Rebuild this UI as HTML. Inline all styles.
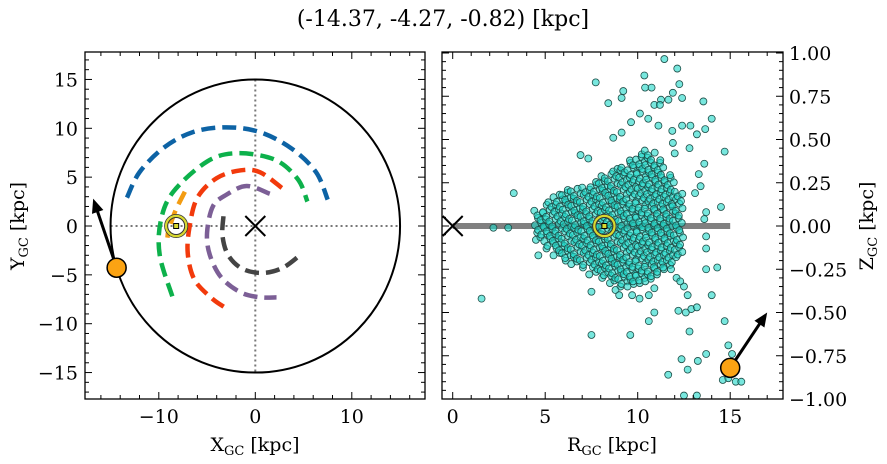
<!DOCTYPE html>
<html><head><meta charset="utf-8"><style>
html,body{margin:0;padding:0;background:#fff;}
svg{display:block;font-family:"DejaVu Serif","Liberation Serif",serif;}
</style></head><body>
<svg id="c" width="887" height="464" viewBox="0 0 887 464" xmlns="http://www.w3.org/2000/svg">
<text x="443" y="26" font-size="22" text-anchor="middle">(-14.37, -4.27, -0.82) [kpc]</text>
<g id="L"></g><g id="R"></g>
</svg>
<script>
// ---- left panel data (kpc) ----
const blueX=[-13.3,-12,-9.5,-6.5,-3,0.5,3.8,6.3,7.5];
const blueY=[2.9,5.5,8,9.6,10.1,9.6,7.9,5.5,2.7];
const greenX=[-8.6,-9.9,-9.8,-8.5,-5,-1.9,2,4.4,5.4];
const greenY=[-7.2,-3,0.5,3.5,6.6,7.45,6.8,4.8,2.5];
const redX=[2.75,0.5,-1.5,-4,-6,-6.8,-7,-6.3,-4.5,-3.2];
const redY=[3.9,5.5,5.7,4.9,2.9,0,-2.8,-5.5,-7.4,-8.3];
const purpleX=[1.5,-0.9,-3,-4.4,-5,-4.7,-3.5,-1.5,0.5,2.2];
const purpleY=[3.3,4.1,3.2,2,-0.7,-3,-5.3,-6.8,-7.3,-7.3];
const grayX=[-3.3,-3.4,-2.8,-1.3,0.8,2.8,4.5];
const grayY=[1,-1,-3,-4.4,-4.8,-4.3,-3.1];
const orangeX=[-7.3,-8.3,-9,-9.1];
const orangeY=[3.5,1.5,-0.5,-1.2];
const sunPos=[-8.2,0];
const objXY=[-14.37,-4.27];
const objArrow=[-16.8,2.8];
const circleR=15;
const xTicksL=[-10,0,10], yTicksL=[-15,-10,-5,0,5,10,15];
// ---- right panel data ----
const coreR=[4.5,5,5.5,6,6.5,7,7.5,8,8.5,9,9.5,10,10.5,11,11.5,12];
const coreZmax=[0.1,0.15,0.19,0.21,0.22,0.23,0.26,0.3,0.33,0.34,0.38,0.42,0.44,0.38,0.3,0.2];
const coreZmin=[-0.08,-0.13,-0.17,-0.2,-0.22,-0.24,-0.28,-0.3,-0.33,-0.35,-0.35,-0.33,-0.32,-0.28,-0.24,-0.18];
const outR=[11.44,12.14,10.36,7.73,12.25,9.22,9.13,10.4,10.75,11.9,12.4,11.26,11.66,8.41,13.55,10.9,11.2,10.12,10.57,14.0,9.64,11.12,12.4,12.85,13.2,13.65,11.87,9.13,8.68,14.7,6.91,7.33,3.3,14.5,2.2,3.0,1.56,4.63,7.5,7.5,9.6,10.6,10.9,11.65,12.37,12.7,13.25,12.8,13.7,14.0,14.3,14.7,14.9,15.1,14.6,14.9,15.3,15.6,12.5,13.2,12.2,12.6,12.9,13.2,13.7,13.7,13.7,13.6,13.7,13.1,13.4,13.6,11.8,12.1,12.5,12.7,12.3,10.1,10.6,10.9,8.8,9.0,9.7,12.8,13.3,11.9,12.0];
const outZ=[0.965,0.91,0.87,0.83,0.82,0.78,0.74,0.80,0.80,0.77,0.74,0.73,0.73,0.71,0.72,0.70,0.70,0.65,0.62,0.62,0.60,0.58,0.58,0.58,0.53,0.56,0.55,0.54,0.51,0.43,0.41,0.39,0.19,0.11,-0.01,-0.01,-0.42,-0.17,-0.38,-0.63,-0.63,-0.55,-0.5,-0.86,-0.77,-0.83,-0.78,-0.61,-0.74,-0.4,-0.24,-0.55,-0.69,-0.74,-0.89,-0.88,-0.9,-0.9,-0.98,-0.98,-0.49,-0.5,-0.48,-0.47,-0.06,-0.13,-0.25,0.04,0.08,0.19,0.23,0.36,-0.25,-0.3,-0.35,-0.4,-0.32,-0.42,-0.4,-0.36,-0.37,-0.4,-0.4,0.45,0.3,0.48,0.42];
const objRZ=[15,-0.82], objArrowRZ=[17,-0.5];
const xTicksR=[0,5,10,15], zTicks=[-1,-0.75,-0.5,-0.25,0,0.25,0.5,0.75,1];
const zLabels=["\u22121.00","\u22120.75","\u22120.50","\u22120.25","0.00","0.25","0.50","0.75","1.00"];

const NS="http://www.w3.org/2000/svg";
function mk(p,t,a){const e=document.createElementNS(NS,t);for(const k in a)e.setAttribute(k,a[k]);p.appendChild(e);return e;}
const FS=19;
// left axes
const L={x0:85,x1:425,y0:52,y1:399};
const lx=v=>255.3+v*9.65, ly=v=>226-v*9.77;
const gL=document.getElementById('L');
let e;
e=mk(gL,'line',{x1:lx(-15),x2:lx(15),y1:ly(0),y2:ly(0),stroke:'#777','stroke-width':2,'stroke-dasharray':'2,3'});

e=mk(gL,'line',{x1:lx(0),x2:lx(0),y1:ly(15),y2:ly(-15),stroke:'#777','stroke-width':2,'stroke-dasharray':'2,3'});

e=mk(gL,'ellipse',{cx:lx(0),cy:ly(0),rx:circleR*9.65,ry:circleR*9.77,fill:'none',stroke:'#000','stroke-width':2});

function smooth(xs,ys){const P=xs.map((x,i)=>[lx(x),ly(ys[i])]);let d='M'+P[0];for(let i=0;i<P.length-1;i++){const p0=P[i-1]||P[i],p1=P[i],p2=P[i+1],p3=P[i+2]||p2;d+=' C'+[p1[0]+(p2[0]-p0[0])/6,p1[1]+(p2[1]-p0[1])/6]+' '+[p2[0]-(p3[0]-p1[0])/6,p2[1]-(p3[1]-p1[1])/6]+' '+p2;}return d;}
const arcs=[[blueX,blueY,'#0d63a5','blue-arm'],[orangeX,orangeY,'#f39c12','orange-arm'],[greenX,greenY,'#0db14b','green-arm'],[redX,redY,'#f23a0c','red-arm'],[purpleX,purpleY,'#7c5f96','purple-arm'],[grayX,grayY,'#444','gray-arm']];
arcs.forEach(a=>{e=mk(gL,'path',{d:smooth(a[0],a[1]),fill:'none',stroke:a[2],'stroke-width':4.5,'stroke-dasharray':'14,7'});
});
function cross(g,cx,cy,n){e=mk(g,'path',{d:`M${cx-10},${cy-10}L${cx+10},${cy+10}M${cx-10},${cy+10}L${cx+10},${cy-10}`,stroke:'#000','stroke-width':2});
}
cross(gL,lx(0),ly(0),'galactic-center-marker');
function sun(g,cx,cy){const s=mk(g,'g',{});
mk(s,'circle',{cx,cy,r:11.5,fill:'none',stroke:'#333','stroke-width':1});mk(s,'circle',{cx,cy,r:10,fill:'none',stroke:'#d8d830','stroke-width':2.5});
mk(s,'circle',{cx,cy,r:8.5,fill:'none',stroke:'#333','stroke-width':1});mk(s,'rect',{x:cx-2.5,y:cy-2.5,width:5,height:5,fill:'#d8d830',stroke:'#000','stroke-width':1});}
sun(gL,lx(sunPos[0]),ly(sunPos[1]));
function arrowDot(g,x0,y0,x1,y1,n){const dx=x1-x0,dy=y1-y0,l=Math.hypot(dx,dy),ux=dx/l,uy=dy/l;
e=mk(g,'line',{x1:x0,y1:y0,x2:x1-ux*10,y2:y1-uy*10,stroke:'#000','stroke-width':3});
e=mk(g,'path',{d:`M${x1},${y1}L${x1-ux*14-uy*6},${y1-uy*14+ux*6}L${x1-ux*14+uy*6},${y1-uy*14-ux*6}Z`,fill:'#000'});
e=mk(g,'circle',{cx:x0,cy:y0,r:9.5,fill:'#fba313',stroke:'#000','stroke-width':1.5});}
arrowDot(gL,lx(objXY[0]),ly(objXY[1]),lx(objArrow[0]),ly(objArrow[1]),'left');
function frame(g,b,n){e=mk(g,'rect',{x:b.x0,y:b.y0,width:b.x1-b.x0,height:b.y1-b.y0,fill:'none',stroke:'#000','stroke-width':1.3});}
function tick(g,x1,y1,x2,y2){mk(g,'line',{x1,y1,x2,y2,stroke:'#000','stroke-width':1});}
frame(gL,L,'left-axes-frame');
for(let v=-16;v<=16;v+=2){const x=lx(v);if(x<L.x0||x>L.x1)continue;const len=v%10==0?7:4;tick(gL,x,L.y1,x,L.y1-len);tick(gL,x,L.y0,x,L.y0+len);}
for(let v=-17;v<=17;v++){const y=ly(v);const len=v%5==0?7:4;tick(gL,L.x0,y,L.x0+len,y);tick(gL,L.x1,y,L.x1-len,y);}
xTicksL.forEach(v=>{e=mk(gL,'text',{x:lx(v),y:423,'font-size':FS,'text-anchor':'middle'});e.textContent=v<0?'\u2212'+(-v):v;});
yTicksL.forEach(v=>{e=mk(gL,'text',{x:78,y:ly(v)+7,'font-size':FS,'text-anchor':'end'});e.textContent=v<0?'\u2212'+(-v):v;});
e=mk(gL,'text',{x:255,y:451,'font-size':19,'text-anchor':'middle'});e.innerHTML='X<tspan font-size="13" dy="4">GC</tspan><tspan dy="-4"> [kpc]</tspan>';
e=mk(gL,'text',{x:0,y:0,'font-size':19,'text-anchor':'middle',transform:'translate(24,226) rotate(-90)'});e.innerHTML='Y<tspan font-size="13" dy="4">GC</tspan><tspan dy="-4"> [kpc]</tspan>';

// right axes
const R={x0:442,x1:783,y0:52,y1:399};
const rx=v=>452.7+v*18.5, rz=v=>226-v*173;
const gR=document.getElementById('R');
e=mk(gR,'line',{x1:rx(0),x2:rx(15),y1:rz(0),y2:rz(0),stroke:'#808080','stroke-width':6});
const pts=mk(gR,'g',{});
function dot(r,z){const d=mk(pts,'circle',{cx:rx(r),cy:rz(z),r:3.5,fill:'rgba(30,215,200,0.6)',stroke:'#1d4d47','stroke-width':0.8});
}
const wob=[0,0.07,-0.05,0.11,-0.09,0.04,-0.12,0.08];
coreR.forEach((r,i)=>{for(let k=0;k<3;k++){let z=coreZmin[i]+k*0.015;let j=0;while(z<=coreZmax[i]){dot(r+k*0.17+wob[(j+i+k)%8],z);z+=0.042;j++;}}});
outR.forEach((r,i)=>dot(r,outZ[i]));
cross(gR,rx(0),rz(0),'galactic-center-marker-r');
sun(gR,rx(8.2),rz(0));
arrowDot(gR,rx(objRZ[0]),rz(objRZ[1]),rx(objArrowRZ[0]),rz(objArrowRZ[1]),'right');
e=mk(gR,'rect',{x:R.x1,y:0,width:104,height:464,fill:'#fff'});
e=mk(gR,'rect',{x:R.x0,y:R.y1,width:R.x1-R.x0,height:65,fill:'#fff'});
e=mk(gR,'rect',{x:R.x0,y:34,width:R.x1-R.x0,height:R.y0-34,fill:'#fff'});
frame(gR,R,'right-axes-frame');
for(let v=0;v<=18;v++){const x=rx(v);if(x>R.x1)continue;const len=v%5==0?7:4;tick(gR,x,R.y1,x,R.y1-len);tick(gR,x,R.y0,x,R.y0+len);}
for(let i=-20;i<=20;i++){const y=rz(i*0.05);const len=i%5==0?7:4;tick(gR,R.x0,y,R.x0+len,y);tick(gR,R.x1,y,R.x1-len,y);}
xTicksR.forEach(v=>{e=mk(gR,'text',{x:rx(v),y:423,'font-size':FS,'text-anchor':'middle'});e.textContent=v;});
zTicks.forEach((v,i)=>{e=mk(gR,'text',{x:789,y:rz(v)+7,'font-size':FS,'text-anchor':'start'});e.textContent=zLabels[i];});
e=mk(gR,'text',{x:612,y:451,'font-size':19,'text-anchor':'middle'});e.innerHTML='R<tspan font-size="13" dy="4">GC</tspan><tspan dy="-4"> [kpc]</tspan>';
e=mk(gR,'text',{x:0,y:0,'font-size':19,'text-anchor':'middle',transform:'translate(873,226) rotate(-90)'});e.innerHTML='Z<tspan font-size="13" dy="4">GC</tspan><tspan dy="-4"> [kpc]</tspan>';
</script>
</body></html>
